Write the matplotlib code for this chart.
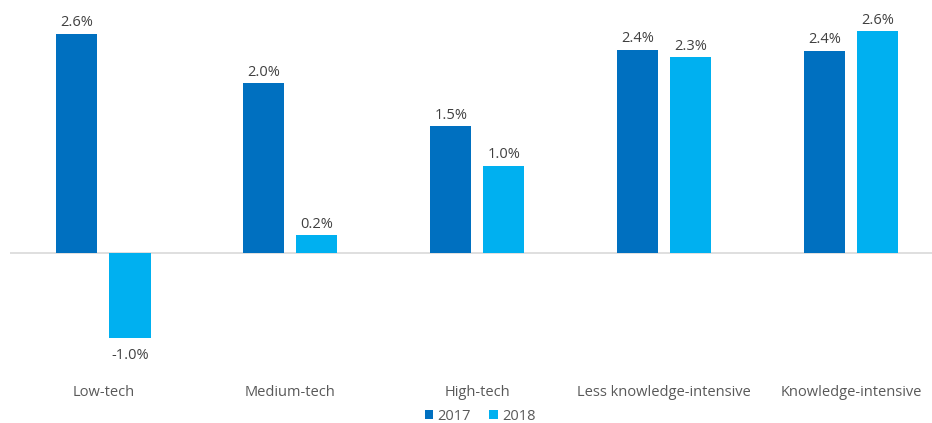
import matplotlib
matplotlib.use("Agg")
import matplotlib.pyplot as plt
import numpy as np

categories = ["Low-tech", "Medium-tech", "High-tech", "Less knowledge-intensive", "Knowledge-intensive"]
series_names = ["2017", "2018"]
values_2017 = [2.61, 2.02, 1.51, 2.42, 2.41]
values_2018 = [-1.01, 0.21, 1.04, 2.33, 2.64]
colors = ["#0070C0", "#00B0F0"]

plt.rcParams['font.family'] = ['Open Sans', 'DejaVu Sans']

W, H = 932, 423
fig = plt.figure(figsize=(W / 100, H / 100), dpi=100)
left_px, right_px, top_px, bottom_px = 10, 932, 10, 372
ax = fig.add_axes([left_px / W, 1 - bottom_px / H, (right_px - left_px) / W, (bottom_px - top_px) / H])

zero_px = 253
ppu = 84.0
ax.set_ylim(-(bottom_px - zero_px) / ppu, (zero_px - top_px) / ppu)
ax.set_xlim(-0.5, (right_px - 103) / 187.0)

x = np.arange(len(categories))
bw = 0.22
off = 0.142
for vals, name, c, o in [(values_2017, series_names[0], colors[0], -off),
                         (values_2018, series_names[1], colors[1], off)]:
    bars = ax.bar(x + o, vals, width=bw, color=c, label=name, zorder=2)
    for b, v in zip(bars, vals):
        xc = b.get_x() + b.get_width() / 2
        if v >= 0:
            ax.annotate(f"{v:.1f}%", (xc, v), xytext=(0, 2.5), textcoords="offset points",
                        ha="center", va="bottom", fontsize=10.5, color="#404040")
        else:
            ax.annotate(f"{v:.1f}%", (xc, v), xytext=(0, -7.5), textcoords="offset points",
                        ha="center", va="top", fontsize=10.5, color="#404040")

ax.axhline(0, color="#D9D9D9", linewidth=1.2, zorder=1)
for s in ax.spines.values():
    s.set_visible(False)
ax.set_yticks([])
ax.set_xticks(x)
ax.set_xticklabels(categories, fontsize=10.5, color="#595959")
ax.tick_params(axis='x', length=0, pad=9.5)

leg = fig.legend(loc="center", bbox_to_anchor=(480 / W, 1 - 416.5 / H), ncol=2,
                 frameon=False, fontsize=10.5, handlelength=0.6, handleheight=0.6,
                 handletextpad=0.3, columnspacing=1.2, borderpad=0.0)
for t in leg.get_texts():
    t.set_color("#595959")

fig.savefig("out.png", dpi=100)
